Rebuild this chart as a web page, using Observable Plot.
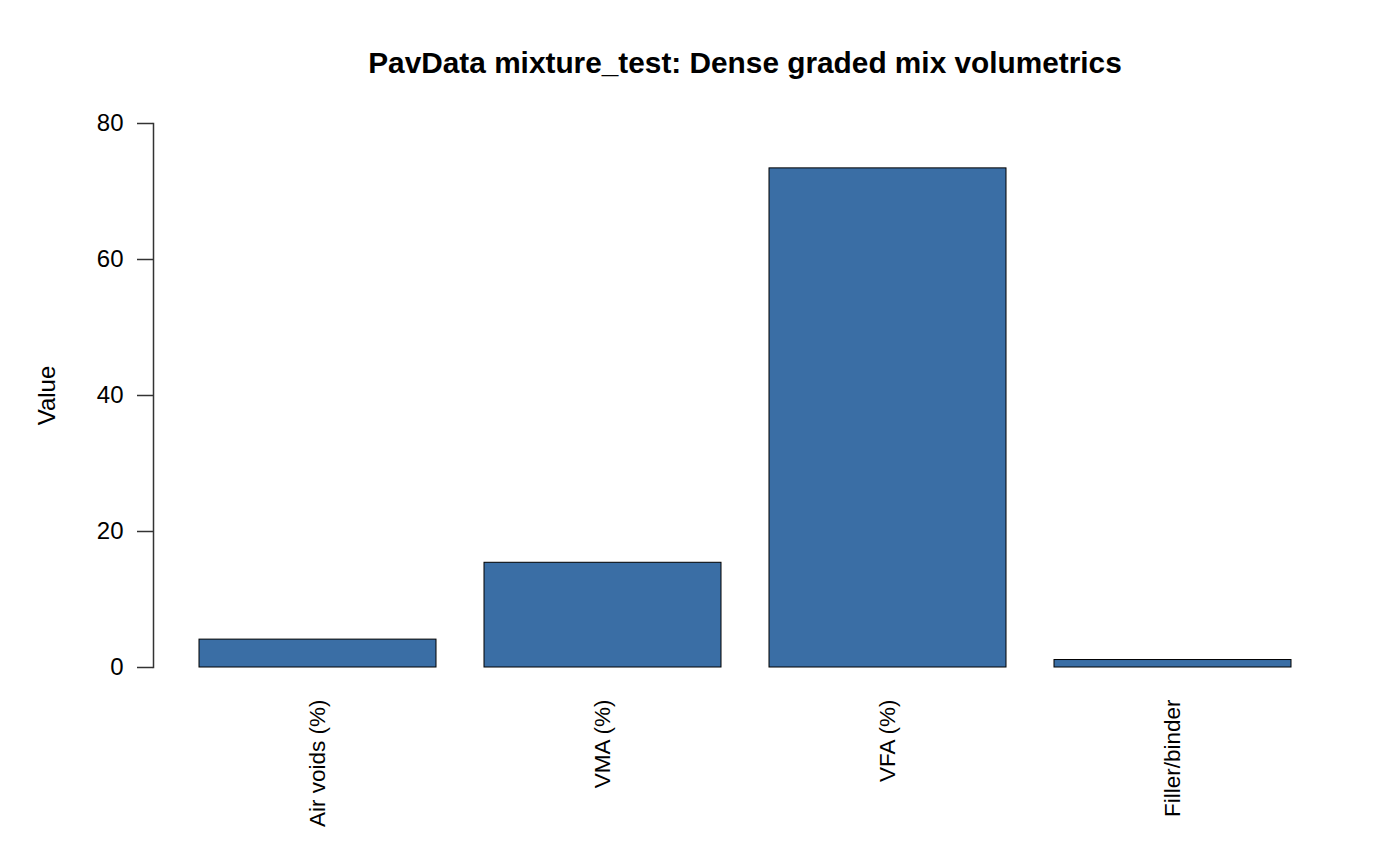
<!DOCTYPE html>
<html>
<head>
<meta charset="utf-8">
<script src="https://cdn.jsdelivr.net/npm/d3@7"></script>
<script src="https://cdn.jsdelivr.net/npm/@observablehq/plot@0.6"></script>
<style>
  html, body { margin: 0; padding: 0; background: #fff; }
  #wrap { width: 1400px; height: 850px; position: relative; font-family: "Liberation Sans", Arial, sans-serif; }
  #title { position: absolute; left: 197px; width: 1096px; top: 45px; text-align: center; font-weight: bold; font-size: 29.8px; line-height: 36px; color: #000; white-space: nowrap; }
  #chart { position: absolute; left: 0; top: 100px; }
</style>
</head>
<body>
<div id="wrap">
  <div id="title">PavData mixture_test: Dense graded mix volumetrics</div>
  <div id="chart"></div>
</div>
<script>
const categories = ["Air voids (%)", "VMA (%)", "VFA (%)", "Filler/binder"];
const values = [4.1, 15.4, 73.4, 1.1];
const yTicks = [0, 20, 40, 60, 80];

const data = categories.map((c, i) => ({category: c, value: values[i]}));

const chart = Plot.plot({
  width: 1400,
  height: 750,
  marginLeft: 153,
  marginRight: 60,
  marginTop: 23,
  marginBottom: 183,
  style: {fontFamily: "'Liberation Sans', Arial, sans-serif", fontSize: "24px", color: "#000", background: "#fff"},
  x: {domain: categories, range: [197, 1293], paddingInner: 0.1678, paddingOuter: 0},
  y: {domain: [0, 80]},
  marks: [
    Plot.barY(data, {x: "category", y: "value", fill: "#3A6EA5", stroke: "#000", strokeWidth: 1}),
    Plot.frame({anchor: "left", stroke: "#333", strokeWidth: 1.5}),
    Plot.axisY({ticks: yTicks, tickSize: 16, tickPadding: 14, fontSize: 24, stroke: "#333", strokeWidth: 1.5,
      label: "Value", labelAnchor: "center", labelArrow: "none", labelOffset: 116}),
    Plot.axisX({tickSize: 0, tickRotate: -90, tickPadding: 32, fontSize: 22.5, label: null})
  ]
});
document.getElementById("chart").appendChild(chart);
</script>
</body>
</html>
